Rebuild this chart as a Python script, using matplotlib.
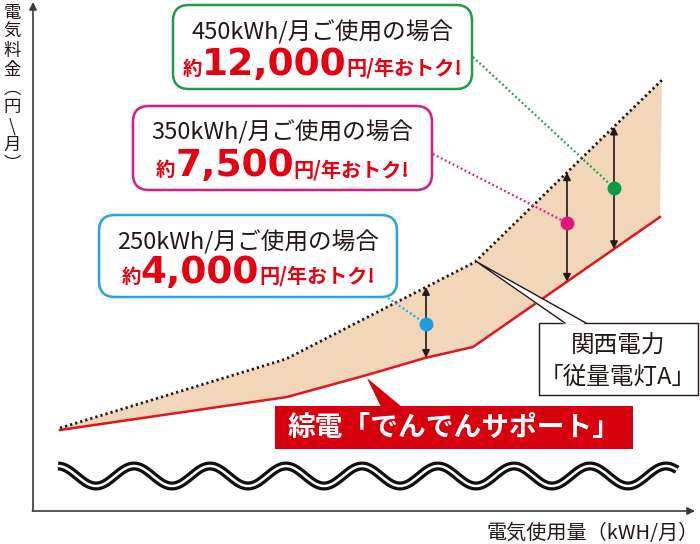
import numpy as np
import matplotlib
matplotlib.use("Agg")
import matplotlib.pyplot as plt
from matplotlib.patches import FancyBboxPatch, Rectangle

plt.rcParams['font.family'] = ['Noto Sans CJK JP', 'DejaVu Sans']

# chart is an illustration with no scale, so values are kept in picture units
# (x to the right, y downwards)
kansai_x = [60, 286, 475, 662]
kansai_y = [428, 359, 262, 80]
denden_x = [60, 287, 367, 425, 473, 660]
denden_y = [430, 397, 375, 358, 347, 217]

# three usage cases: 250, 350, 450 kWh
case_labels = ['250kWh/月ご使用の場合', '350kWh/月ご使用の場合', '450kWh/月ご使用の場合']
case_saving = ['4,000', '7,500', '12,000']
case_x = [426, 567, 614]
dot_y = [324, 223, 188]
case_colors = ['#27a3dd', '#d81b7e', '#24984c']
dot_colors = ['#1f9de0', '#e2137e', '#0c9a48']
# boxes: left, top, right, bottom
case_boxes = [(99, 215, 397, 297), (133, 106, 432, 190), (173, 5, 472, 89)]
leader_start = [(388, 298), (433, 154), (473, 57)]

RED = '#e50012'
INK = '#231815'

fig = plt.figure(figsize=(7, 5.44), dpi=100)
ax = fig.add_axes([0, 0, 1, 1])
ax.set_xlim(0, 700)
ax.set_ylim(544, 0)
ax.axis('off')

# axes with arrows
ax.annotate('', xy=(33, 2), xytext=(33, 511),
            arrowprops=dict(arrowstyle='-|>', color='#3a3a3a', lw=1.2, mutation_scale=11, shrinkA=0, shrinkB=0))
ax.annotate('', xy=(695, 511), xytext=(32.4, 511),
            arrowprops=dict(arrowstyle='-|>', color='#3a3a3a', lw=1.2, mutation_scale=11, shrinkA=0, shrinkB=0))

# y label written vertically (one text, one character per line)
ylab = '\n'.join(['電', '気', '料', '金', '︵', '円', '\\', '月', '︶'])
ax.text(12, 4, ylab, fontsize=12.5, color=INK, ha='center', va='top',
        multialignment='center', linespacing=1.06)

ax.text(699, 534, '電気使用量（kWH/月）', fontsize=14.5, color=INK, ha='right', va='center')

# filled gap between the two tariffs
poly_x = np.concatenate([kansai_x, denden_x[::-1]])
poly_y = np.concatenate([kansai_y, denden_y[::-1]])
ax.fill(poly_x, poly_y, color='#f1d6ba', lw=0, zorder=1)

ax.plot(denden_x, denden_y, color='#e0161e', lw=1.8, zorder=2, solid_joinstyle='miter')
ax.plot(kansai_x, kansai_y, color=INK, lw=2.0, ls=(0, (0.8, 1.1)), zorder=2)

# difference arrows
for cx in case_x:
    top = np.interp(cx, kansai_x, kansai_y)
    bot = np.interp(cx, denden_x, denden_y)
    ax.annotate('', xy=(cx, top), xytext=(cx, bot),
                arrowprops=dict(arrowstyle='<|-|>', color=INK, lw=1.2, mutation_scale=11, shrinkA=0, shrinkB=0),
                zorder=3)

# leaders and dots
for (sx, sy), cx, dy, c, dc in zip(leader_start, case_x, dot_y, case_colors, dot_colors):
    ax.plot([sx, cx], [sy, dy], color=c, lw=1.6, ls=(0, (0.8, 1.2)), zorder=3)
    ax.plot(cx, dy, 'o', color=dc, ms=9, zorder=4)

renderer = fig.canvas.get_renderer()

# callout boxes
for (l, t, r, b), c, lab, sav in zip(case_boxes, case_colors, case_labels, case_saving):
    box = FancyBboxPatch((l, t), r - l, b - t, boxstyle='round,pad=0,rounding_size=16',
                         fc='white', ec=c, lw=1.8, zorder=5)
    ax.add_patch(box)
    cx = (l + r) / 2
    ax.text(cx, t + 34, lab, fontsize=17, color=INK, ha='center', va='baseline', zorder=6)
    parts = [('約', 14, 'bold', ['Noto Sans CJK JP']),
             (sav, 27, 'bold', ['DejaVu Sans']),
             ('円/年おトク!', 14.5, 'bold', ['Noto Sans CJK JP', 'DejaVu Sans'])]
    texts = []
    for s, size, w, fam in parts:
        tx = ax.text(0, b - 14, s, fontsize=size, fontweight=w, family=fam, color=RED,
                     ha='left', va='baseline', zorder=6)
        texts.append(tx)
    widths = [tx.get_window_extent(renderer=renderer).width for tx in texts]
    x = cx - sum(widths) / 2
    for tx, w in zip(texts, widths):
        tx.set_x(x)
        x += w

# kansai label box with wedge
ax.add_patch(Rectangle((539, 323), 159, 72, fc='white', ec=INK, lw=1.0, zorder=5))
ax.fill([477, 565, 586], [262, 324.5, 324.5], color='white', lw=0, zorder=5)
ax.plot([565, 477, 586], [323, 262, 323], color=INK, lw=1.0, zorder=5)
ax.text(618, 346, '関西電力', fontsize=17, color=INK, ha='center', va='center', zorder=6)
ax.text(618, 377, '「従量電灯A」', fontsize=17, color=INK, ha='center', va='center', zorder=6)

# denden label box with wedge
ax.add_patch(Rectangle((275, 406), 358, 43, fc='#d7000f', ec='none', zorder=5))
ax.fill([367, 381, 402], [378, 407, 407], color='#d7000f', lw=0, zorder=5)
ax.text(454, 428, '綜電「でんでんサポート」', fontsize=20, fontweight='bold', color='white',
        ha='center', va='center', zorder=6)

# break mark (double wavy line)
wave_x = np.linspace(58, 677, 600)
wave_y = 476 - 10 * np.cos(2 * np.pi * (wave_x - 58) / 76)
ax.plot(wave_x, wave_y, color='#111111', lw=6.5, solid_capstyle='butt', zorder=2)
ax.plot(wave_x, wave_y, color='white', lw=1.8, solid_capstyle='butt', zorder=2)

fig.savefig('out.png', dpi=100)
